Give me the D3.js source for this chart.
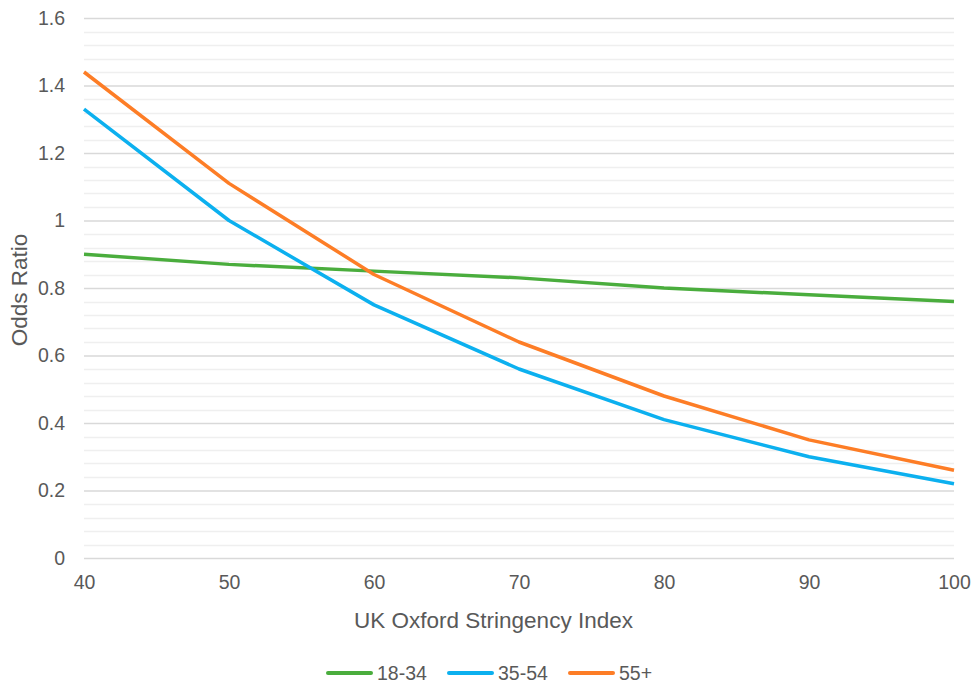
<!DOCTYPE html>
<html>
<head>
<meta charset="utf-8">
<script src="https://cdn.jsdelivr.net/npm/d3@7"></script>
<style>
  html, body { margin: 0; padding: 0; background: #fff; }
  svg { display: block; font-family: "Liberation Sans", Arial, sans-serif; }
</style>
</head>
<body>
<svg id="chart" width="975" height="684"></svg>
<script>
// Stringency index values along the x axis
const stringency = [40, 50, 60, 70, 80, 90, 100];
// Odds ratio by age group
const seriesNames = ["18-34", "35-54", "55+"];
const age18to34 = [0.90, 0.87, 0.85, 0.83, 0.80, 0.78, 0.76];
const age35to54 = [1.33, 1.00, 0.75, 0.56, 0.41, 0.30, 0.22];
const age55plus = [1.44, 1.11, 0.84, 0.64, 0.48, 0.35, 0.26];
const seriesColors = ["#4aad3d", "#0cb0ef", "#fd7d26"];
const yTickLabels = ["0", "0.2", "0.4", "0.6", "0.8", "1", "1.2", "1.4", "1.6"];
const xTickLabels = ["40", "50", "60", "70", "80", "90", "100"];

const seriesData = [age18to34, age35to54, age55plus];

const svg = d3.select("#chart");
const margin = { left: 84, right: 21, top: 18, bottom: 126 };
const W = 975, H = 684;
const textColor = "#595959";

const x = d3.scaleLinear().domain([40, 100]).range([margin.left, W - margin.right]);
const y = d3.scaleLinear().domain([0, 1.6]).range([H - margin.bottom, margin.top]);

// Minor gridlines every 0.04
const minor = d3.range(0, 1.6001, 0.04).filter(v => Math.abs(v / 0.2 - Math.round(v / 0.2)) > 1e-6);
svg.append("g").selectAll("line").data(minor).join("line")
  .attr("x1", x(40)).attr("x2", x(100))
  .attr("y1", d => Math.round(y(d)) + 0.5).attr("y2", d => Math.round(y(d)) + 0.5)
  .attr("stroke", "#efefef").attr("stroke-width", 1.3);

// Major gridlines + y tick labels via the axis
const yAxis = d3.axisLeft(y)
  .tickValues(yTickLabels.map(Number))
  .tickFormat((d, i) => yTickLabels[i])
  .tickSize(-(x(100) - x(40)))
  .tickPadding(19);
const gy = svg.append("g").attr("transform", `translate(${x(40)},0)`).call(yAxis);
gy.select(".domain").remove();
gy.selectAll(".tick line").attr("stroke", "#d9d9d9").attr("stroke-width", 1.4);
gy.selectAll(".tick text").attr("fill", textColor).attr("font-size", 19.5)
  .attr("font-family", "Liberation Sans, Arial, sans-serif");

// X axis labels
const xAxis = d3.axisBottom(x)
  .tickValues(stringency)
  .tickFormat((d, i) => xTickLabels[i])
  .tickSize(0)
  .tickPadding(17);
const gx = svg.append("g").attr("transform", `translate(0,${y(0)})`).call(xAxis);
gx.select(".domain").remove();
gx.selectAll(".tick text").attr("fill", textColor).attr("font-size", 19.5)
  .attr("font-family", "Liberation Sans, Arial, sans-serif");

// Series lines
const line = d3.line().x((d, i) => x(stringency[i])).y(d => y(d));
svg.append("g").selectAll("path").data(seriesData).join("path")
  .attr("d", d => line(d))
  .attr("fill", "none")
  .attr("stroke", (d, i) => seriesColors[i])
  .attr("stroke-width", 3.5)
  .attr("stroke-linejoin", "round");

// Axis titles
svg.append("text")
  .attr("x", 493.5).attr("y", 628)
  .attr("text-anchor", "middle").attr("fill", textColor).attr("font-size", 22.5)
  .text("UK Oxford Stringency Index");
svg.append("text")
  .attr("transform", `translate(27,${(y(0) + y(1.6)) / 2 + 2}) rotate(-90)`)
  .attr("text-anchor", "middle").attr("fill", textColor).attr("font-size", 22.5)
  .text("Odds Ratio");

// Legend
const legendX = [328, 449, 570];
const lg = svg.append("g").selectAll("g").data(seriesNames).join("g")
  .attr("transform", (d, i) => `translate(${legendX[i]},673)`);
lg.append("line").attr("x1", 0).attr("x2", 43).attr("y1", 0).attr("y2", 0)
  .attr("stroke", (d, i) => seriesColors[i]).attr("stroke-width", 4).attr("stroke-linecap", "round");
lg.append("text").attr("x", 49).attr("y", 7).attr("fill", textColor).attr("font-size", 19.5)
  .text(d => d);
</script>
</body>
</html>
